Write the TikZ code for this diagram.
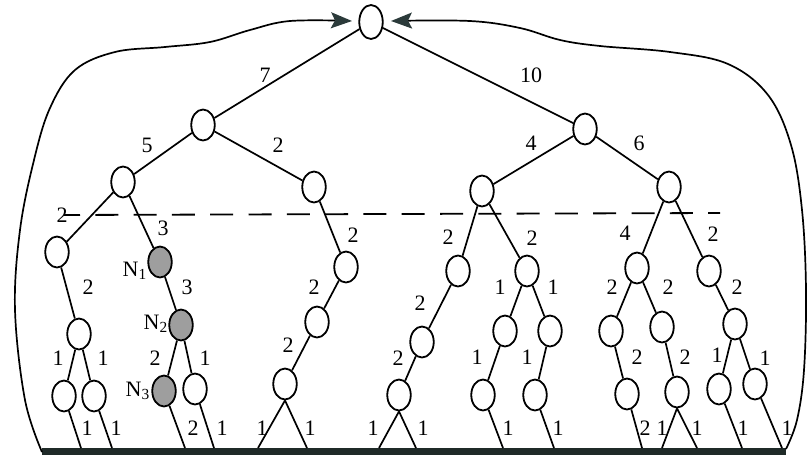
\documentclass[tikz,border=0pt]{standalone}
\usepackage{fontspec}
\setmainfont{Liberation Serif}
\usetikzlibrary{shapes.geometric,arrows.meta}
\definecolor{tipcol}{HTML}{2B3A3A}
\definecolor{barcol}{HTML}{1F2A28}
\begin{document}
\begin{tikzpicture}[x=1pt,y=-1pt,
  vert/.style={ellipse,draw,line width=1.8pt,minimum width=23.5pt,minimum height=31pt,inner sep=0pt},
  hit/.style={vert,fill=black!38},
  link/.style={line width=1.7pt},
  wt/.style={font=\fontsize{22}{25}\selectfont,inner sep=0pt},
  cut/.style={line width=1.8pt,dash pattern=on 23pt off 15.3pt,dash phase=7pt},
  feedback/.style={line width=1.7pt,-{Stealth[length=21pt,width=16pt,inset=4pt,color=tipcol]}}
]
\useasboundingbox (0,0) rectangle (808,455);

% ground bar
\fill[barcol] (42,448) rectangle (786,455);

% tree vertices
\node[vert,minimum height=34pt] (r) at (371,22) {};
\node[vert] (a) at (203,125) {};
\node[vert] (b) at (585,129) {};
\node[vert] (a1) at (123,182) {};
\node[vert] (a2) at (314,187) {};
\node[vert] (b1) at (482,191) {};
\node[vert] (b2) at (669,187) {};
\node[vert] (a11) at (57,252) {};
\node[hit]  (n1) at (160,262) {};
\node[vert] (a21) at (346,267) {};
\node[vert] (b11) at (458,271) {};
\node[vert] (b12) at (527,271) {};
\node[vert] (b21) at (637,268) {};
\node[vert] (b22) at (709,271) {};
\node[vert] (a111) at (79,334) {};
\node[hit]  (n2) at (181,325) {};
\node[vert] (a211) at (317,322) {};
\node[vert] (b111) at (422,342) {};
\node[vert] (b121) at (505,331) {};
\node[vert] (b122) at (550,331) {};
\node[vert] (b211) at (611,331) {};
\node[vert] (b212) at (662,327) {};
\node[vert] (b221) at (735,324) {};
\node[vert] (a1111) at (64,396) {};
\node[vert] (a1112) at (94,396) {};
\node[hit]  (n3) at (164,391) {};
\node[vert] (n2r) at (195,389) {};
\node[vert] (a2111) at (285,384) {};
\node[vert] (b1111) at (399,395) {};
\node[vert] (b1211) at (483,395) {};
\node[vert] (b1221) at (535,395) {};
\node[vert] (b2111) at (627,394) {};
\node[vert] (b2121) at (677,392) {};
\node[vert] (b2211) at (719,389) {};
\node[vert] (b2212) at (755,384) {};

% feet of the leaf branches on the ground bar
\foreach \n/\x in {g1/81,g2/112,g3/185,g4/214,g5/258,g6/307,g7/379,g8/416,
                   g9/503,g10/554,g11/642,g12/662,g13/697,g14/742,g15/782}
  \coordinate (\n) at (\x,448);

% branches
\foreach \p/\c in {r/a,r/b,a/a1,a/a2,b/b1,b/b2,a1/a11,a1/n1,a2/a21,b1/b11,b1/b12,
                   b2/b21,b2/b22,a11/a111,n1/n2,a21/a211,b11/b111,b12/b121,b12/b122,
                   b21/b211,b21/b212,b22/b221,a111/a1111,a111/a1112,n2/n3,n2/n2r,
                   a211/a2111,b111/b1111,b121/b1211,b122/b1221,b211/b2111,
                   b212/b2121,b221/b2211,b221/b2212}
  \draw[link] (\p) -- (\c);
\foreach \p/\c in {a1111/g1,a1112/g2,n3/g3,n2r/g4,b1211/g9,b1221/g10,
                   b2111/g11,b2211/g14,b2212/g15}
  \draw[link] (\p) -- (\c);
\foreach \p/\c in {a2111/g5,a2111/g6,b1111/g7,b1111/g8,b2121/g12,b2121/g13}
  \draw[link] (\p.south) -- (\c);

% cut line
\coordinate (cl) at (64,215);
\coordinate (cr) at (720,213);
\draw[cut] (cl) -- (cr);

% branch weights
\foreach [count=\i] \x/\y/\t in {265/75/7, 531/75/10,
    147/145/5, 278/145/2, 531/143/4, 639/143/6,
    62/215/2, 163/228/3, 353/235/2, 448/237/2, 532/238/2, 625/233/4, 713/234/2,
    88/287/2, 187/287/3, 314/287/2, 420/303/2, 500/287/1, 553/287/1, 612/287/2,
    668/287/2, 737/287/2,
    58/358/1, 103/358/1, 155/358/2, 205/358/1, 288/345/2, 398/358/2, 477/357/1,
    527/357/1, 637/357/2, 685/357/2, 717/355/1, 765/358/1,
    87/428/1, 116/428/1, 193/428/2, 222/428/1, 262/428/1, 310/428/1, 373/428/1,
    423/428/1, 508/428/1, 558/428/1, 645/428/2, 662/428/1, 697/428/1, 743/428/1,
    787/428/1}
  \node[wt] (w\i) at (\x,\y) {\t};

% names of the shaded vertices
\node[wt,anchor=base east] (l1) at (147,276) {N\textsubscript{1}};
\node[wt,anchor=base east] (l2) at (168,329) {N\textsubscript{2}};
\node[wt,anchor=base east] (l3) at (150,396) {N\textsubscript{3}};

% return paths back to the root
\coordinate (lb) at (42,452);
\coordinate (lt) at (352,21);
\coordinate (rb) at (786,449);
\coordinate (rt) at (391,21);
\draw[feedback] plot[smooth,tension=0.6] coordinates {(lb) (25,400) (15,310) (20,230)
  (34,160) (50,108) (75,70) (115,52) (165,47) (210,42) (250,30) (290,21) (lt)};
\draw[feedback] plot[smooth,tension=0.6] coordinates {(rb) (797,420) (804,370) (806,290)
  (802,210) (791,145) (768,95) (728,64) (670,52) (600,46) (560,40) (520,28) (470,21) (rt)};
\end{tikzpicture}
\end{document}
